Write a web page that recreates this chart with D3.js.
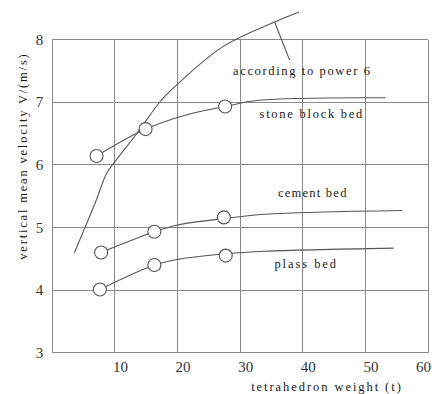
<!DOCTYPE html>
<meta charset="utf-8">
<style>
body{margin:0;background:#fff;}
text{font-family:"Liberation Serif",serif;fill:#1a1a1a;}
.tick text{font-size:15px;fill:#333;}
.grid line{stroke:#8a8a8a;stroke-width:1;shape-rendering:crispEdges;}
.curve{fill:none;stroke:#555;stroke-width:1.1;}
.ring{fill:#fff;stroke:#555;stroke-width:1.1;}
.lab{font-size:12.5px;}
</style>
<body>
<script src="https://d3js.org/d3.v7.min.js"></script>
<script>

var xTicks=[10,20,30,40,50,60];
var yTicks=[3,4,5,6,7,8];

// power 6 curve
var powerX=[3.5,7,8.7,10,13.5,17.4,19.8,27.3,35.5,39.4];
var powerY=[4.59,5.43,5.87,6.05,6.5,7.03,7.27,7.89,8.28,8.44];

var stoneX=[7.07,14.9,21.5,27.6,33,53.2];
var stoneY=[6.14,6.57,6.8,6.93,7.03,7.07];
var stoneDotX=[7.07,14.9,27.6];
var stoneDotY=[6.14,6.57,6.93];

var cementX=[7.8,16.3,20,27.4,34,55.9];
var cementY=[4.6,4.93,5.04,5.14,5.21,5.27];
var cementDotX=[7.8,16.3,27.4];
var cementDotY=[4.6,4.93,5.16];

var plassX=[7.6,16.3,20,27.7,34,54.5];
var plassY=[4.01,4.4,4.49,4.58,4.62,4.67];
var plassDotX=[7.6,16.3,27.7];
var plassDotY=[4.01,4.4,4.55];

var labels=["according to power 6","stone block bed","cement bed","plass bed"];
var labelX=[39.8,41.3,41.5,40.4];
var labelY=[7.49,6.81,5.55,4.41];

var W=432,H=394,m={l:52.3,r:4,t:39.5,b:41.3};
var svg=d3.select("body").append("svg").attr("width",W).attr("height",H);

var x=d3.scaleLinear().domain([0,60]).range([m.l,W-m.r]);
var y=d3.scaleLinear().domain([3,8]).range([H-m.b,m.t]);

// grid + frame
var g=svg.append("g").attr("class","grid");
g.selectAll(".vx").data(x.ticks(6)).enter().append("line")
	.attr("x1",d=>x(d)).attr("x2",d=>x(d)).attr("y1",y(3)).attr("y2",y(8));
g.selectAll(".hy").data(yTicks).enter().append("line")
	.attr("y1",d=>y(d)).attr("y2",d=>y(d)).attr("x1",x(0)).attr("x2",x(60));

// axes (labels only)
var xa=svg.append("g").attr("transform","translate(0,"+(H-m.b)+")")
	.call(d3.axisBottom(x).tickValues(xTicks).tickSize(0).tickPadding(0).tickFormat(d3.format("d")));
xa.select(".domain").remove();
xa.selectAll(".tick text").attr("dy",null).attr("y",19)
	.attr("dx",d=>d==60?-5:5);

var ya=svg.append("g").attr("transform","translate("+m.l+",0)")
	.call(d3.axisLeft(y).tickValues(yTicks).tickSize(0).tickPadding(9).tickFormat(d3.format("d")));
ya.select(".domain").remove();

svg.append("text").attr("class","lab")
	.attr("x",326).attr("y",391).attr("text-anchor","middle")
	.attr("textLength",22*6.8).attr("lengthAdjust","spacing")
	.text("tetrahedron weight (t)");

svg.append("text").attr("class","lab")
	.attr("transform","translate(23,157) rotate(-90)")
	.attr("text-anchor","middle").attr("dominant-baseline","central")
	.attr("textLength",30*6.85).attr("lengthAdjust","spacing")
	.text("vertical mean velocity V/(m/s)");

var smooth=d3.line().x(d=>x(d[0])).y(d=>y(d[1])).curve(d3.curveCatmullRom.alpha(0.5));

function pts(a,b){return a.map((v,i)=>[v,b[i]]);}

svg.append("path").attr("class","curve").attr("d",smooth(pts(powerX,powerY)));
svg.append("path").attr("class","curve").attr("d",smooth(pts(stoneX,stoneY)));
svg.append("path").attr("class","curve").attr("d",smooth(pts(cementX,cementY)));
svg.append("path").attr("class","curve").attr("d",smooth(pts(plassX,plassY)));

// pointer from the power 6 label to its curve
svg.append("line").attr("class","curve")
	.attr("x1",x(35.5)).attr("y1",y(8.28)).attr("x2",x(37.9)).attr("y2",y(7.67));

[[stoneDotX,stoneDotY],[cementDotX,cementDotY],[plassDotX,plassDotY]].forEach(function(s){
	svg.append("g").selectAll("circle").data(pts(s[0],s[1])).enter().append("circle")
		.attr("class","ring").attr("r",6.5)
		.attr("cx",d=>x(d[0])).attr("cy",d=>y(d[1]));
});

svg.append("g").selectAll("text").data(labels).enter().append("text").attr("class","lab")
	.attr("x",(d,i)=>x(labelX[i])).attr("y",(d,i)=>y(labelY[i]))
	.attr("text-anchor","middle").attr("dominant-baseline","central")
	.attr("textLength",d=>d.length*6.85).attr("lengthAdjust","spacing")
	.text(d=>d);

</script>
</body>
